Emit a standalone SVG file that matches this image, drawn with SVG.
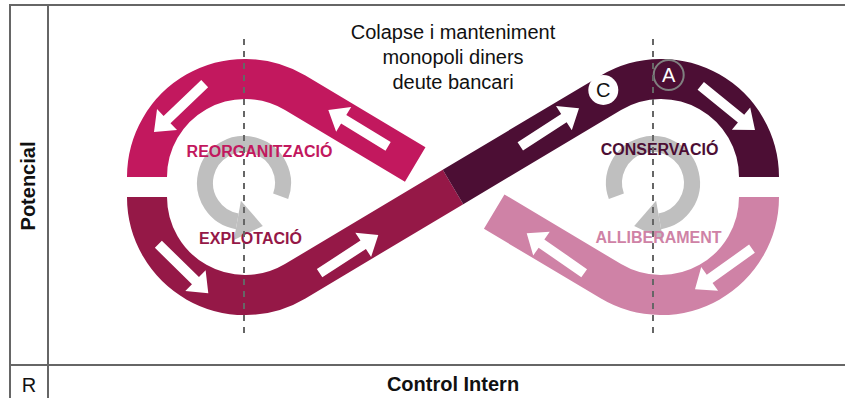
<svg xmlns="http://www.w3.org/2000/svg" width="845" height="398" viewBox="0 0 845 398">
<style>
.band{fill:none;stroke-width:40;stroke-linecap:butt}
.arr{fill:#ffffff}
.lbl{font-family:"Liberation Sans",Arial,sans-serif;font-weight:bold;font-size:16px;text-anchor:middle}
.ttl{font-family:"Liberation Sans",Arial,sans-serif;font-size:20px;text-anchor:middle;fill:#111111}
.ax{font-family:"Liberation Sans",Arial,sans-serif;font-size:20px;text-anchor:middle;fill:#111111}
.grid{stroke:#666666;stroke-width:2;fill:none}
.dash{stroke:#666666;stroke-width:2;stroke-dasharray:6 6;fill:none}
.mk{font-family:"Liberation Sans",Arial,sans-serif;font-size:20px;text-anchor:middle}
</style>
<defs>
<path id="arrow" d="M-70,-5 H-18 V-14.5 L0,0 L-18,14.5 V5 H-70 Z"/>
<g id="cyc">
<path d="M36.65,13.34 A39,39 0 1 0 -6.77,38.41" fill="none" stroke="#BFBFBF" stroke-width="16"/>
<path d="M-3.1,17.7 L-10.1,57.1 L18.8,42.9 Z" fill="#BFBFBF"/>
</g>
</defs>

<g id="frame">
<rect x="10" y="5" width="845" height="400" fill="#E6E6E6" class="grid"/>
<line x1="48" y1="5" x2="48" y2="398" class="grid"/>
<line x1="10" y1="365" x2="845" y2="365" class="grid"/>
<text class="ax" font-weight="bold" transform="translate(35,186) rotate(-90)" x="0" y="0">Potencial</text>
<text class="ax" x="29" y="392">R</text>
<text class="ax" font-weight="bold" x="453" y="391">Control Intern</text>
</g>

<g id="title">
<text class="ttl" x="453" y="39">Colapse i manteniment</text>
<text class="ttl" x="453" y="64">monopoli diners</text>
<text class="ttl" x="453" y="89">deute bancari</text>
</g>

<g id="cycles">
<use href="#cyc" transform="translate(244,183)"/>
<use href="#cyc" transform="translate(653,183) scale(-1,1)"/>
</g>

<g id="connectors">
<path class="band" stroke="#C2185E" d="M147,177 A98,98 0 0 1 295.2,92.8 L415.2,164.5"/>
<path class="band" stroke="#CF82A6" d="M494.2,211.6 L610.8,281.2 A98,98 0 0 0 759,197"/>
<path class="band" stroke="#951847" d="M147,197 A98,98 0 0 0 295.2,281.2 L453,187"/>
<path class="band" stroke="#4C0E34" d="M453,187 L610.8,92.8 A98,98 0 0 1 759,177"/>
</g>

<g id="reorganitzacio">
<use href="#arrow" class="arr" transform="translate(154,132) rotate(136.4)"/>
<use href="#arrow" class="arr" transform="translate(328.3,110) rotate(211.3)"/>
<text class="lbl" fill="#C2185E" x="259.5" y="157">REORGANITZACIÓ</text>
</g>

<g id="explotacio">
<use href="#arrow" class="arr" transform="translate(208.3,293.3) rotate(44.5)"/>
<use href="#arrow" class="arr" transform="translate(378.3,235) rotate(-33)"/>
<text class="lbl" fill="#951847" x="250.5" y="244">EXPLOTACIÓ</text>
</g>

<g id="conservacio">
<use href="#arrow" class="arr" transform="translate(579,108.3) rotate(-33)"/>
<use href="#arrow" class="arr" transform="translate(755,130) rotate(39.2)"/>
<text class="lbl" fill="#4C0E34" x="659.5" y="155">CONSERVACIÓ</text>
</g>

<g id="alliberament">
<use href="#arrow" class="arr" transform="translate(526.7,233.3) rotate(214.8)"/>
<use href="#arrow" class="arr" transform="translate(695,289.3) rotate(144.5)"/>
<text class="lbl" fill="#CF82A6" x="658.5" y="243">ALLIBERAMENT</text>
</g>

<g id="marker-c">
<circle cx="603.3" cy="90" r="15" fill="#ffffff"/>
<text class="mk" fill="#111111" x="603.3" y="97">C</text>
</g>

<g id="marker-a">
<circle cx="668.7" cy="75" r="15" fill="none" stroke="#808080" stroke-width="2"/>
<text class="mk" fill="#ffffff" x="668.7" y="82">A</text>
</g>

<g id="guides">
<line class="dash" x1="244" y1="39" x2="244" y2="334"/>
<line class="dash" x1="653" y1="39" x2="653" y2="334"/>
</g>
</svg>
